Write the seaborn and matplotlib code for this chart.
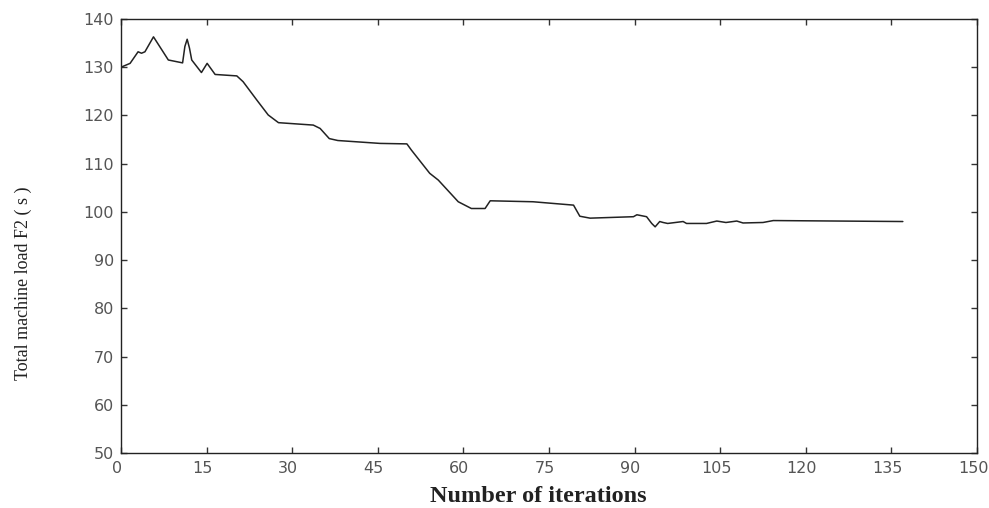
import pandas as pd
import seaborn as sns
import matplotlib.pyplot as plt
from matplotlib.transforms import ScaledTranslation

# convergence curve
iterations = [0, 1.6, 3.0, 3.6, 4.2, 5.7, 8.3, 10.8, 11.2, 11.6, 12.0, 12.4, 14.1, 15.1,
              16.5, 20.3, 21.4, 23.8, 25.8, 27.6, 33.7, 34.9, 36.5, 38.0, 45.4, 50.1,
              50.9, 54.1, 55.6, 59.1, 61.4, 63.8, 64.7, 72.2, 79.3, 80.4, 82.2, 89.8,
              90.4, 92.1, 93.0, 93.6, 94.4, 95.0, 95.8, 98.5, 99.1, 102.6, 104.4, 106.0,
              107.9, 109.0, 112.5, 114.3, 137.0]
load_f2 = [130.0, 130.8, 133.2, 132.9, 133.2, 136.3, 131.5, 130.9, 134.3, 135.8, 134.0,
           131.5, 128.9, 130.8, 128.5, 128.2, 127.0, 123.2, 120.1, 118.5, 118.0, 117.3,
           115.2, 114.8, 114.2, 114.1, 112.8, 108.0, 106.6, 102.1, 100.7, 100.7, 102.3,
           102.1, 101.4, 99.1, 98.7, 99.0, 99.4, 99.0, 97.6, 96.9, 98.0, 97.8, 97.6,
           98.0, 97.6, 97.6, 98.1, 97.8, 98.1, 97.7, 97.8, 98.2, 98.0]

xticks = list(range(0, 151, 15))
yticks = list(range(50, 141, 10))

df = pd.DataFrame({'Iteration': iterations, 'F2': load_f2})

sns.set_style('ticks')
plt.rcParams['font.family'] = ['DejaVu Sans']

fig = plt.figure(figsize=(9.89, 5.08), dpi=100)
ax = fig.add_axes([0.1223, 0.1083, 0.8656, 0.8543])

sns.lineplot(data=df, x='Iteration', y='F2', ax=ax, color='#222222', linewidth=1.1)

ax.set_xlim(0, 150)
ax.set_ylim(50, 140)
ax.set_xticks(xticks)
ax.set_yticks(yticks)
ax.tick_params(direction='in', length=4, width=1, top=True, right=True,
               labelsize=11.5, colors='#333333', labelcolor='#555555')
ax.tick_params(axis='x', pad=6)
ax.tick_params(axis='y', pad=5)
# labels sit a little left of their ticks in the original
shift = ScaledTranslation(-4 / 100, 0, fig.dpi_scale_trans)
for lab in ax.get_xticklabels():
    lab.set_transform(lab.get_transform() + shift)

for s in ax.spines.values():
    s.set_visible(True)
    s.set_linewidth(1.0)
    s.set_color('#222222')

ax.set_xlabel('Number of iterations', family='Liberation Serif', fontsize=17.5,
              fontweight='bold', color='#222222')
ax.xaxis.set_label_coords(0.488, -0.075)
ax.set_ylabel('Total machine load F2 ( s )', family='Liberation Serif', fontsize=13,
              color='#222222')
ax.yaxis.set_label_coords(-0.104, 0.39)

fig.savefig('out.png', dpi=100)
